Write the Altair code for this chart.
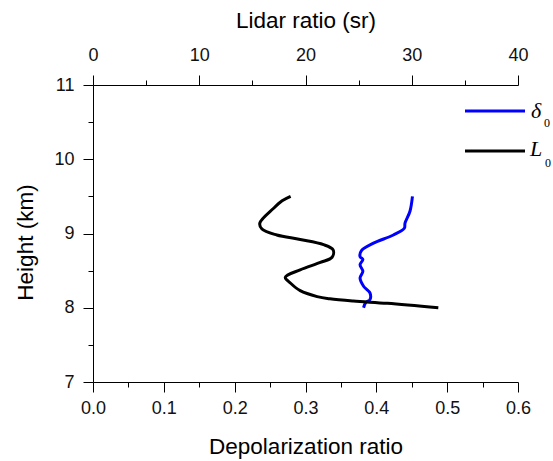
import altair as alt
import pandas as pd

# delta_0 (depolarization ratio, bottom axis)
delta_h = [9.50, 9.30, 9.14, 9.07, 8.98, 8.87, 8.77, 8.69, 8.65, 8.58, 8.49, 8.40, 8.29, 8.20, 8.11, 8.07, 8.00]
delta_v = [0.451, 0.4475, 0.4405, 0.4395, 0.424, 0.396, 0.379, 0.377, 0.381, 0.377, 0.381, 0.377, 0.382, 0.391, 0.391, 0.385, 0.382]

# L_0 (lidar ratio, top axis)
lr_h = [9.50, 9.44, 9.34, 9.14, 9.06, 8.98, 8.92, 8.85, 8.78, 8.68, 8.61, 8.51, 8.41, 8.33, 8.23, 8.15, 8.12, 8.09, 8.06, 8.00]
lr_v = [18.6, 17.8, 17.0, 15.7, 15.9, 17.3, 19.5, 21.7, 22.6, 22.5, 21.4, 19.5, 18.1, 18.6, 19.5, 21.1, 22.3, 24.5, 27.7, 32.5]

depol_ticks = [round(i * 0.05, 2) for i in range(13)]
lidar_ticks = [i * 5 for i in range(9)]
height_ticks = [7 + i * 0.5 for i in range(9)]

df_d = pd.DataFrame({"i": range(len(delta_h)), "h": delta_h, "v": delta_v})
df_l = pd.DataFrame({"i": range(len(lr_h)), "h": lr_h, "v": lr_v})

FONT = "Liberation Sans"
common_axis = dict(
    domainColor="black", tickColor="black", labelColor="#111111", titleColor="black",
    labelFont=FONT, titleFont=FONT, labelFontSize=18, titleFontSize=22.5,
    titleFontWeight="normal", grid=False, domainWidth=1, tickWidth=1, labelFlush=False,
)

def y_enc():
    return alt.Y("h:Q", scale=alt.Scale(domain=[7, 11], nice=False),
                 axis=alt.Axis(title="Height (km)", values=height_ticks,
                               labelExpr="round(datum.value*2)%2==0 ? format(datum.value,'d') : ''",
                               tickSize=alt.condition("round(datum.value*2)%2==0", alt.value(10), alt.value(5)),
                               labelPadding=9, titlePadding=16, titleY=157, **common_axis))

blue = alt.Chart(df_d).mark_line(color="#0000FF", strokeWidth=3, interpolate="catmull-rom").encode(
    x=alt.X("v:Q", scale=alt.Scale(domain=[0, 0.6], nice=False),
            axis=alt.Axis(title="Depolarization ratio", orient="bottom", values=depol_ticks,
                          labelExpr="round(datum.value*20)%2==0 ? format(datum.value,'.1f') : ''",
                          tickSize=alt.condition("round(datum.value*20)%2==0", alt.value(10), alt.value(5)),
                          labelPadding=7, titlePadding=18, **common_axis)),
    y=y_enc(),
    order="i:Q",
)

black = alt.Chart(df_l).mark_line(color="black", strokeWidth=3, interpolate="catmull-rom").encode(
    x=alt.X("v:Q", scale=alt.Scale(domain=[0, 40], nice=False),
            axis=alt.Axis(title="Lidar ratio (sr)", orient="top", values=lidar_ticks,
                          labelExpr="datum.value%10==0 ? format(datum.value,'d') : ''",
                          tickSize=alt.condition("datum.value%10==0", alt.value(10), alt.value(5)),
                          labelPadding=11, titlePadding=14, **common_axis)),
    y=y_enc(),
    order="i:Q",
)

leg_blue = alt.Chart().mark_rule(color="#0000FF", strokeWidth=3).encode(
    x=alt.value(372), x2=alt.value(432), y=alt.value(26))
leg_black = alt.Chart().mark_rule(color="black", strokeWidth=3).encode(
    x=alt.value(372), x2=alt.value(432), y=alt.value(66))

SERIF = "Liberation Serif"
t1 = alt.Chart().mark_text(font=SERIF, fontStyle="italic", fontSize=22, align="left", baseline="alphabetic").encode(
    x=alt.value(438), y=alt.value(33), text=alt.value("δ"))
t1s = alt.Chart().mark_text(font=SERIF, fontSize=12, align="left", baseline="alphabetic").encode(
    x=alt.value(451), y=alt.value(42), text=alt.value("0"))
t2 = alt.Chart().mark_text(font=SERIF, fontStyle="italic", fontSize=22, align="left", baseline="alphabetic").encode(
    x=alt.value(437), y=alt.value(71), text=alt.value("L"))
t2s = alt.Chart().mark_text(font=SERIF, fontSize=12, align="left", baseline="alphabetic").encode(
    x=alt.value(452), y=alt.value(82), text=alt.value("0"))

chart = alt.layer(blue, black, leg_blue, leg_black, t1, t1s, t2, t2s).resolve_scale(
    x="independent"
).properties(
    width=425, height=297,
    autosize=alt.AutoSizeParams(type="none"),
    padding={"left": 93, "top": 85, "right": 35, "bottom": 79},
).configure(background="white").configure_view(strokeWidth=0, stroke="transparent")

chart.save("out.html", embed_options={"renderer": "svg", "actions": False})
